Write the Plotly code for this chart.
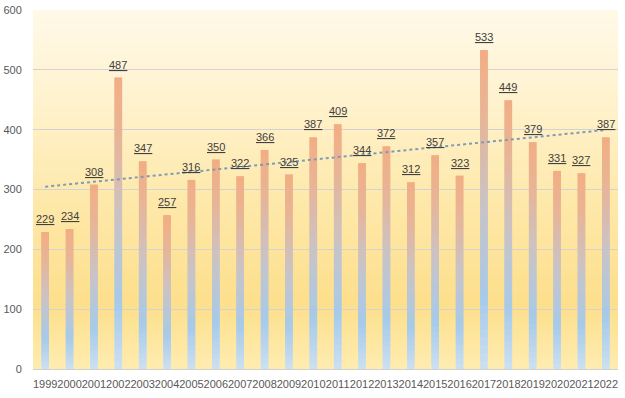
import numpy as np
import plotly.graph_objects as go

years = [str(y) for y in range(1999, 2023)]
values = [229, 234, 308, 487, 347, 257, 316, 350, 322, 366, 325, 387,
          409, 344, 372, 312, 357, 323, 533, 449, 379, 331, 327, 387]

y_ticks = [0, 100, 200, 300, 400, 500, 600]


def lerp(c1, c2, t):
    return tuple(a + (b - a) * t for a, b in zip(c1, c2))


def grad(stops, t):
    for (t0, c0), (t1, c1) in zip(stops[:-1], stops[1:]):
        if t0 <= t <= t1:
            return lerp(c0, c1, (t - t0) / (t1 - t0) if t1 > t0 else 0)
    return stops[-1][1]


def rgb(c):
    return "rgb(%d,%d,%d)" % tuple(round(v) for v in c)


# bar gradient (fraction of bar height: 0 bottom, 1 top)
bar_stops = [(0.0, (205, 224, 242)), (0.22, (166, 202, 234)),
             (0.5, (200, 196, 200)), (0.8, (232, 180, 150)), (1.0, (242, 174, 132))]
# background gradient (0 bottom, 1 top of plot area)
bg_stops = [(0.0, (254, 236, 176)), (0.18, (253, 223, 140)),
            (0.45, (254, 232, 168)), (0.75, (255, 242, 206)), (1.0, (255, 249, 232))]

fig = go.Figure()

N = 40
vals = np.array(values, dtype=float)
for i in range(N):
    t = (i + 0.5) / N
    top = min(i + 2, N) / N
    fig.add_trace(go.Bar(
        x=years, y=vals * (top - i / N), base=vals * i / N,
        marker=dict(color=rgb(grad(bar_stops, t)), line=dict(width=0)),
        width=0.31, hoverinfo="skip", showlegend=False))

# linear trend
xi = np.arange(len(values))
k, b = np.polyfit(xi, vals, 1)
fig.add_trace(go.Scatter(
    x=years, y=k * xi + b, mode="lines",
    line=dict(color="#7F9CB4", width=2, dash="dot"),
    hoverinfo="skip", showlegend=False))

# value labels (x given as category index)
annotations = []
for idx, v in enumerate(values):
    annotations.append(dict(
        x=idx, y=v, xref="x", yref="y", text=str(v), showarrow=False,
        yanchor="bottom", yshift=5,
        font=dict(family="Liberation Sans", size=11, color="#404040",
                  lineposition="under")))

# background gradient bands
M = 90
shapes = []
for j in range(M):
    y0 = j / M
    y1 = min((j + 1.5) / M, 1.0)
    shapes.append(dict(type="rect", xref="paper", yref="paper",
                       x0=0, x1=1, y0=y0, y1=y1, layer="below",
                       line=dict(width=0),
                       fillcolor=rgb(grad(bg_stops, (j + 0.5) / M))))

fig.update_layout(
    width=625, height=398,
    margin=dict(l=33, r=7, t=10, b=29, autoexpand=False),
    paper_bgcolor="white", plot_bgcolor="rgba(0,0,0,0)",
    barmode="overlay", shapes=shapes, annotations=annotations,
    font=dict(family="Liberation Sans", size=11, color="#595959"),
    xaxis=dict(type="category", range=[-0.5, len(years) - 0.5],
               automargin=False, tickangle=0,
               showgrid=False, showline=True, linecolor="#D0D0D0", linewidth=1,
               ticks="outside", ticklen=5, tickcolor="rgba(0,0,0,0)",
               tickfont=dict(family="Liberation Sans", size=11, color="#595959")),
    yaxis=dict(range=[0, 600], tickvals=y_ticks, showgrid=True, automargin=False,
               gridcolor="#D3D3D3", gridwidth=1, zeroline=False,
               showline=False, ticks="outside", ticklen=8,
               tickcolor="rgba(0,0,0,0)",
               tickfont=dict(family="Liberation Sans", size=11, color="#595959")),
)

fig.write_html("out.html", config={"displayModeBar": False},
               post_script="document.body.style.margin='0';")
